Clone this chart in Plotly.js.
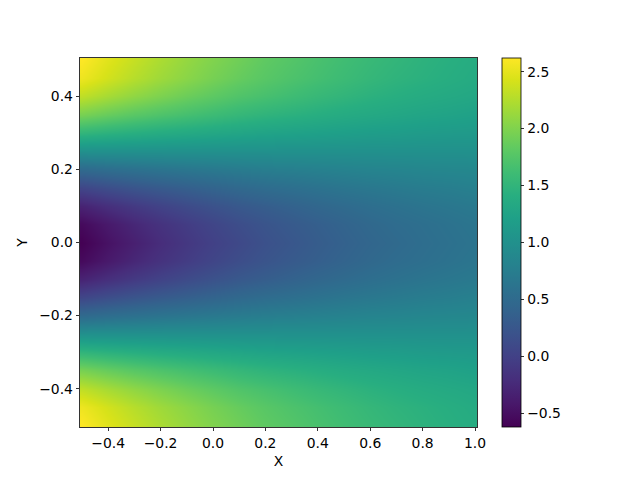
<!DOCTYPE html>
<html>
<head>
<meta charset="utf-8">
<script src="https://cdn.plot.ly/plotly-3.0.1.min.js"></script>
<style>html,body{margin:0;padding:0;background:#fff;}#chart{width:640px;height:480px;}</style>
</head>
<body>
<div id="chart"></div>
<script>
// X positions (columns) and Y positions (rows) of the sampled field
const xVals = [-0.5, -0.4, -0.3, -0.2, -0.1, 0.0, 0.1, 0.2, 0.3, 0.4, 0.5, 0.6, 0.7, 0.8, 0.9, 1.0];
const yVals = [-0.5, -0.45, -0.4, -0.35, -0.3, -0.25, -0.2, -0.15, -0.1, -0.05, 0.0,
               0.05, 0.1, 0.15, 0.2, 0.25, 0.3, 0.35, 0.4, 0.45, 0.5];

// Field values, one row per Y value (bottom to top)
const rowYm050 = [2.62, 2.47, 2.34, 2.21, 2.10, 2.00, 1.91, 1.82, 1.75, 1.68, 1.62, 1.56, 1.51, 1.46, 1.42, 1.38];
const rowYm045 = [2.54, 2.40, 2.27, 2.15, 2.05, 1.95, 1.86, 1.78, 1.71, 1.65, 1.59, 1.53, 1.48, 1.44, 1.40, 1.36];
const rowYm040 = [2.31, 2.19, 2.08, 1.98, 1.89, 1.81, 1.73, 1.67, 1.61, 1.55, 1.50, 1.45, 1.41, 1.37, 1.34, 1.31];
const rowYm035 = [1.95, 1.86, 1.78, 1.71, 1.65, 1.59, 1.53, 1.48, 1.44, 1.40, 1.36, 1.33, 1.30, 1.27, 1.25, 1.22];
const rowYm030 = [1.50, 1.45, 1.41, 1.37, 1.34, 1.31, 1.28, 1.25, 1.23, 1.21, 1.19, 1.17, 1.16, 1.14, 1.13, 1.12];
const rowYm025 = [1.00, 1.00, 1.00, 1.00, 1.00, 1.00, 1.00, 1.00, 1.00, 1.00, 1.00, 1.00, 1.00, 1.00, 1.00, 1.00];
const rowYm020 = [0.50, 0.55, 0.59, 0.63, 0.66, 0.69, 0.72, 0.75, 0.77, 0.79, 0.81, 0.83, 0.84, 0.86, 0.87, 0.88];
const rowYm015 = [0.05, 0.14, 0.22, 0.29, 0.35, 0.41, 0.47, 0.52, 0.56, 0.60, 0.64, 0.67, 0.70, 0.73, 0.75, 0.78];
const rowYm010 = [-0.31, -0.19, -0.08, 0.02, 0.11, 0.19, 0.27, 0.33, 0.39, 0.45, 0.50, 0.55, 0.59, 0.63, 0.66, 0.69];
const rowYm005 = [-0.54, -0.40, -0.27, -0.15, -0.05, 0.05, 0.14, 0.22, 0.29, 0.35, 0.41, 0.47, 0.52, 0.56, 0.60, 0.64];
const rowY000  = [-0.62, -0.47, -0.34, -0.21, -0.10, 0.00, 0.09, 0.18, 0.25, 0.32, 0.38, 0.44, 0.49, 0.54, 0.58, 0.62];
const rowYp005 = [-0.54, -0.40, -0.27, -0.15, -0.05, 0.05, 0.14, 0.22, 0.29, 0.35, 0.41, 0.47, 0.52, 0.56, 0.60, 0.64];
const rowYp010 = [-0.31, -0.19, -0.08, 0.02, 0.11, 0.19, 0.27, 0.33, 0.39, 0.45, 0.50, 0.55, 0.59, 0.63, 0.66, 0.69];
const rowYp015 = [0.05, 0.14, 0.22, 0.29, 0.35, 0.41, 0.47, 0.52, 0.56, 0.60, 0.64, 0.67, 0.70, 0.73, 0.75, 0.78];
const rowYp020 = [0.50, 0.55, 0.59, 0.63, 0.66, 0.69, 0.72, 0.75, 0.77, 0.79, 0.81, 0.83, 0.84, 0.86, 0.87, 0.88];
const rowYp025 = [1.00, 1.00, 1.00, 1.00, 1.00, 1.00, 1.00, 1.00, 1.00, 1.00, 1.00, 1.00, 1.00, 1.00, 1.00, 1.00];
const rowYp030 = [1.50, 1.45, 1.41, 1.37, 1.34, 1.31, 1.28, 1.25, 1.23, 1.21, 1.19, 1.17, 1.16, 1.14, 1.13, 1.12];
const rowYp035 = [1.95, 1.86, 1.78, 1.71, 1.65, 1.59, 1.53, 1.48, 1.44, 1.40, 1.36, 1.33, 1.30, 1.27, 1.25, 1.22];
const rowYp040 = [2.31, 2.19, 2.08, 1.98, 1.89, 1.81, 1.73, 1.67, 1.61, 1.55, 1.50, 1.45, 1.41, 1.37, 1.34, 1.31];
const rowYp045 = [2.54, 2.40, 2.27, 2.15, 2.05, 1.95, 1.86, 1.78, 1.71, 1.65, 1.59, 1.53, 1.48, 1.44, 1.40, 1.36];
const rowYp050 = [2.62, 2.47, 2.34, 2.21, 2.10, 2.00, 1.91, 1.82, 1.75, 1.68, 1.62, 1.56, 1.51, 1.46, 1.42, 1.38];

const xTicks = [-0.4, -0.2, 0.0, 0.2, 0.4, 0.6, 0.8, 1.0];
const yTicks = [-0.4, -0.2, 0.0, 0.2, 0.4];
const cbTicks = [-0.5, 0.0, 0.5, 1.0, 1.5, 2.0, 2.5];
const colorMin = -0.62;
const colorMax = 2.62;

const zRows = [rowYm050, rowYm045, rowYm040, rowYm035, rowYm030, rowYm025, rowYm020, rowYm015,
  rowYm010, rowYm005, rowY000, rowYp005, rowYp010, rowYp015, rowYp020, rowYp025, rowYp030,
  rowYp035, rowYp040, rowYp045, rowYp050];

const FONT = 'DejaVu Sans, sans-serif';
const FS = 13.9;

const trace = {
  type: 'heatmap',
  x: xVals,
  y: yVals,
  z: zRows,
  zsmooth: 'best',
  colorscale: 'Viridis',
  zmin: colorMin,
  zmax: colorMax,
  hoverinfo: 'skip',
  colorbar: {
    thickness: 18.5,
    thicknessmode: 'pixels',
    len: 1,
    lenmode: 'fraction',
    x: 1.0625,
    xanchor: 'left',
    y: 0.5,
    yanchor: 'middle',
    xpad: 0,
    ypad: 0,
    outlinewidth: 0.8,
    outlinecolor: '#000',
    ticks: 'outside',
    ticklen: 3.5,
    tickwidth: 0.8,
    tickcolor: '#000',
    tickvals: cbTicks,
    tickformat: '.1f',
    tickfont: {family: FONT, size: FS, color: '#000'}
  }
};

const axisCommon = {
  showgrid: false,
  zeroline: false,
  showline: true,
  linecolor: '#000',
  linewidth: 0.8,
  mirror: true,
  ticks: 'outside',
  ticklen: 3.5,
  tickwidth: 0.8,
  tickcolor: '#000',
  tickformat: '.1f',
  tickfont: {family: FONT, size: FS, color: '#000'}
};

const layout = {
  width: 640,
  height: 480,
  margin: {l: 80, r: 163.2, t: 57.6, b: 52.8, pad: 0},
  paper_bgcolor: '#fff',
  plot_bgcolor: '#fff',
  font: {family: FONT, size: FS, color: '#000'},
  xaxis: Object.assign({}, axisCommon, {
    range: [-0.5076, 1.0076],
    tickvals: xTicks,
    title: {text: 'X', font: {family: FONT, size: FS, color: '#000'}, standoff: 6}
  }),
  yaxis: Object.assign({}, axisCommon, {
    range: [-0.505, 0.505],
    tickvals: yTicks,
    title: {text: 'Y', font: {family: FONT, size: FS, color: '#000'}, standoff: 8}
  }),
  hovermode: false
};

Plotly.newPlot('chart', [trace], layout, {displayModeBar: false, staticPlot: true});
</script>
</body>
</html>
